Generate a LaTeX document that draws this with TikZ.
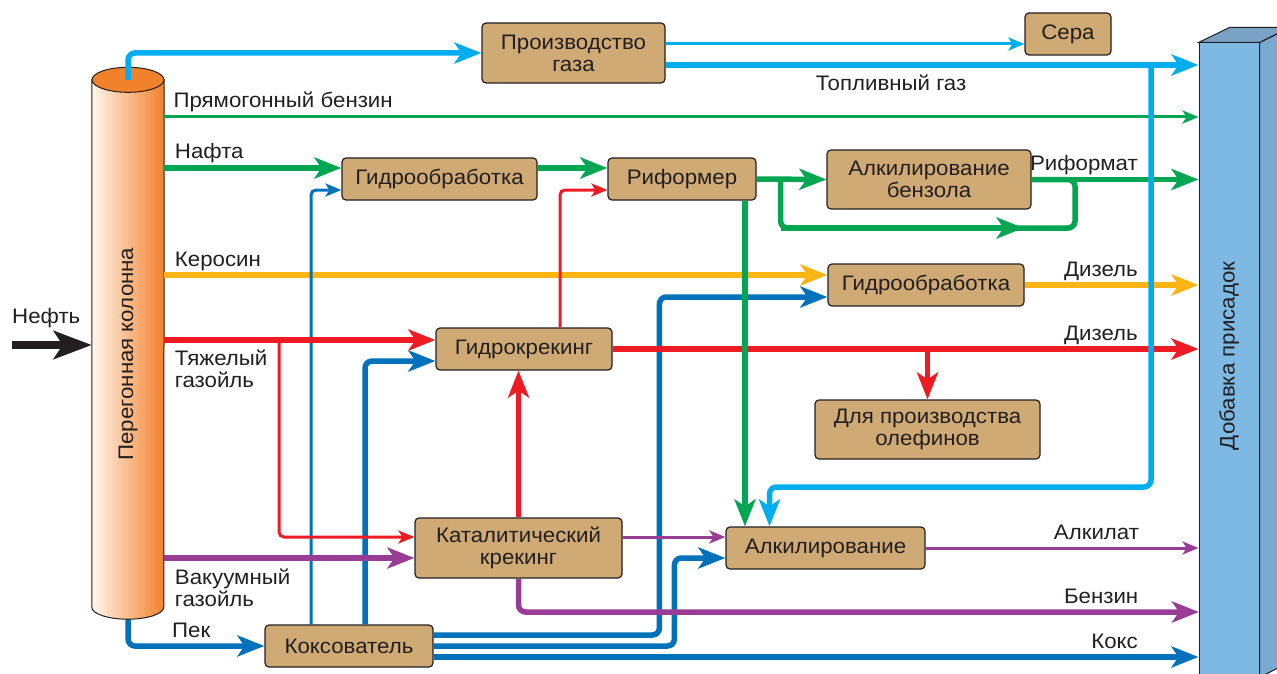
\documentclass[tikz,border=0pt]{standalone}
\usepackage{fontspec}
\setmainfont[FakeStretch=1.06]{Liberation Sans}
\usetikzlibrary{arrows.meta}

\definecolor{ink}{HTML}{231F20}
\definecolor{unitfill}{HTML}{CFAA74}
\definecolor{lb}{HTML}{00AEEF}
\definecolor{db}{HTML}{0072BC}
\definecolor{pg}{HTML}{00A651}
\definecolor{py}{HTML}{FDB515}
\definecolor{rd}{HTML}{ED1C24}
\definecolor{pp}{HTML}{993C95}
\definecolor{colorng}{HTML}{F2812B}
\definecolor{colpale}{HTML}{FFF6EC}
\definecolor{adfront}{HTML}{7EB9E4}
\definecolor{adside}{HTML}{7AAAD2}
\definecolor{adtop}{HTML}{79A2C6}

\begin{document}
\begin{tikzpicture}[
  x=1pt, y=-1pt,
  font=\fontsize{21}{22}\selectfont,
  unit/.style={draw=ink,line width=1.2pt,fill=unitfill,rounded corners=4pt,
    align=center,text=ink,inner sep=0pt},
  lbl/.style={text=ink,inner sep=0pt,align=left},
  pipe/.style={line width=5.5pt,rounded corners=7pt},
  tube/.style={line width=3pt,rounded corners=5pt},
  bigtip/.style={-{Stealth[length=27pt,width=21pt,inset=7pt]}},
  smalltip/.style={-{Stealth[length=16pt,width=13pt,inset=4pt]}},
  inl/.style={lbl,anchor=base west,pos=0,xshift=8pt,yshift=9pt},
  outl/.style={lbl,anchor=base east,pos=1,xshift=-58pt,yshift=9pt}
]
  \path[use as bounding box] (0,0) rectangle (1277,674);
  \clip (0,0) rectangle (1277,674);

  % process units
  \node[unit,minimum width=183pt,minimum height=60pt] (gasplant) at (573.5,53)  {Производство\\газа};
  \node[unit,minimum width=86pt, minimum height=42pt] (sera)     at (1068,34)   {Сера};
  \node[unit,minimum width=195pt,minimum height=42pt] (hydro1)   at (439.5,179) {Гидрообработка};
  \node[unit,minimum width=148pt,minimum height=42pt] (reformer) at (682,179)   {Риформер};
  \node[unit,minimum width=204pt,minimum height=59pt] (benzalk)  at (929,179.5) {Алкилирование\\бензола};
  \node[unit,minimum width=196pt,minimum height=42pt] (hydro2)   at (926,285)   {Гидрообработка};
  \node[unit,minimum width=176pt,minimum height=42pt] (hcrack)   at (524,349)   {Гидрокрекинг};
  \node[unit,minimum width=225pt,minimum height=59pt] (olef)     at (927.5,429.5) {Для производства\\олефинов};
  \node[unit,minimum width=207pt,minimum height=60pt] (catcrack) at (518.5,548) {Каталитический\\крекинг};
  \node[unit,minimum width=199pt,minimum height=42pt] (alky)     at (825.5,548) {Алкилирование};
  \node[unit,minimum width=168pt,minimum height=42pt] (coker)    at (349,646)   {Коксователь};

  % additive block
  \node[draw=ink,fill=adfront,line width=1pt,minimum width=60pt,minimum height=634pt,inner sep=0pt] (adtv) at (1229,360) {};
  \filldraw[fill=adside,draw=ink,line width=1pt] (adtv.north east) -- ++(31,-15) -- ++(0,634) -- (adtv.south east) -- cycle;
  \filldraw[fill=adtop,draw=ink,line width=1pt] (adtv.north west) -- ++(31,-15) -- ++(60,0) -- (adtv.north east) -- cycle;
  \node[rotate=90,text=ink] (adtxt) at (1229,356) {Добавка присадок};

  % column (anchor box only)
  \node[minimum width=72pt,minimum height=527pt,inner sep=0pt] (col) at (128,343.5) {};
  \coordinate (pekc) at (col.south |- coker.west);
  \draw[db,pipe,bigtip] (col.south) |- (coker.west);
  \shade[left color=colpale,right color=colorng,draw=ink,line width=1pt]
    (col.north west) -- (col.south west)
    arc[start angle=180,end angle=0,x radius=36,y radius=12] -- (col.north east) -- cycle;
  \draw[fill=colorng,draw=ink,line width=1pt] (col.north) ellipse[x radius=36,y radius=12.5];
  \node[rotate=90,text=ink] (coltxt) at (128,354) {Перегонная колонна};
  \node[lbl,anchor=base west] (peklbl) at ([xshift=44pt,yshift=9pt]pekc) {Пек};

  % crude feed
  \coordinate (crude) at (12,345);
  \draw[ink,line width=8pt,-{Stealth[length=38pt,width=28pt,inset=9pt]}] (crude) -- (crude -| col.west);
  \node[lbl,anchor=base west] (crudelbl) at (12,323) {Нефть};

  % junction points
  \coordinate (g1) at ([yshift=9pt]gasplant.east);
  \coordinate (g2) at ([yshift=-12pt]gasplant.east);
  \coordinate (fgdrop) at (1151,65);
  \coordinate (fgturn) at (1151,487);
  \coordinate (srg) at (164,117);
  \coordinate (n1) at ([yshift=11pt]hydro1.west);
  \coordinate (k1) at ([yshift=10pt]hydro2.west);
  \coordinate (h1) at ([yshift=9pt]hcrack.west);
  \coordinate (hbr) at (279,340);
  \coordinate (v1) at ([yshift=-10pt]catcrack.west);
  \coordinate (rb) at ([xshift=24pt]reformer.east);
  \coordinate (rjoin) at (1075,228);
  \coordinate (bzout) at (1199,612);

  % light gases
  \draw[lb,pipe,bigtip] (col.north) |- (gasplant.west);
  \draw[lb,tube,smalltip] (g1) -- (g1 -| sera.west);
  \draw[lb,pipe,bigtip] (g2) -- (g2 -| adtv.west)
    node[lbl,anchor=north,pos=0.423,yshift=-7pt]{Топливный газ};

  % gasoline and naphtha
  \draw[pg,tube,smalltip] (srg) -- (srg -| adtv.west) node[inl]{Прямогонный бензин};
  \draw[pg,pipe,bigtip] (col.east |- n1) -- (n1) node[inl]{Нафта};
  \draw[pg,pipe,bigtip] ([yshift=11pt]hydro1.east) -- ([yshift=11pt]reformer.west);
  \draw[pg,pipe,bigtip] (reformer.east) -- (benzalk.west);
  \draw[pg,pipe] (rb) |- (rjoin) |- (benzalk.east);
  \draw[pg,pipe,bigtip] (rb |- rjoin) -- ([xshift=-8pt]benzalk.east |- rjoin);
  \draw[pg,pipe,bigtip] (benzalk.east) -- (benzalk.east -| adtv.west) node[outl]{Риформат};

  % kerosene
  \draw[py,pipe,bigtip] (col.east |- k1) -- (k1) node[inl]{Керосин};
  \draw[py,pipe,bigtip] (hydro2.east) -- (hydro2.east -| adtv.west) node[outl]{Дизель};

  % coker products
  \draw[db,tube,smalltip] ([xshift=-38pt]coker.north) |- ([yshift=-11pt]hydro1.west);
  \draw[db,pipe,bigtip] ([xshift=16pt]coker.north) |- ([yshift=-12pt]hcrack.west);
  \draw[db,pipe,bigtip] ([yshift=11pt]coker.east) -| ([xshift=-168pt,yshift=-12pt]hydro2.west) -- ([yshift=-12pt]hydro2.west);
  \draw[db,pipe,bigtip] (coker.east) -| ([xshift=-51pt,yshift=-10pt]alky.west) -- ([yshift=-10pt]alky.west);
  \draw[db,pipe,bigtip] ([yshift=-11pt]coker.east) -- ([yshift=-11pt]coker.east -| adtv.west) node[outl]{Кокс};

  % heavy gas oil
  \draw[rd,tube,smalltip] (hbr) |- ([yshift=11pt]catcrack.west);
  \draw[rd,pipe,bigtip] (col.east |- h1) -- (h1)
    node[lbl,anchor=north west,pos=0,xshift=8pt,yshift=-7pt]{Тяжелый\\газойль};
  \draw[rd,tube,smalltip] ([xshift=36pt]hcrack.north) |- ([yshift=-11pt]reformer.west);
  \draw[rd,pipe,bigtip] (hcrack.east) -- (hcrack.east -| adtv.west) node[outl]{Дизель};
  \draw[rd,pipe,bigtip] (hcrack.east -| olef.north) -- (olef.north);
  \draw[rd,pipe,bigtip] (catcrack.north) -- (catcrack.north |- hcrack.south);

  % vacuum gas oil
  \draw[pp,pipe,bigtip] (col.east |- v1) -- (v1)
    node[lbl,anchor=north west,pos=0,xshift=8pt,yshift=-8pt]{Вакуумный\\газойль};
  \draw[pp,tube,smalltip] ([yshift=11pt]catcrack.east) -- ([yshift=11pt]alky.west);
  \draw[pp,pipe,bigtip] (catcrack.south) |- (bzout) node[outl]{Бензин};
  \draw[pp,tube,smalltip] (alky.east) -- (alky.east -| adtv.west) node[outl]{Алкилат};

  % feeds to alkylation
  \draw[pg,pipe,bigtip] ([xshift=63pt]reformer.south) -- ([xshift=63pt]reformer.south |- alky.north);
  \draw[lb,pipe,bigtip] (fgdrop) -- (fgturn) -| ([xshift=-56pt]alky.north);
\end{tikzpicture}
\end{document}
